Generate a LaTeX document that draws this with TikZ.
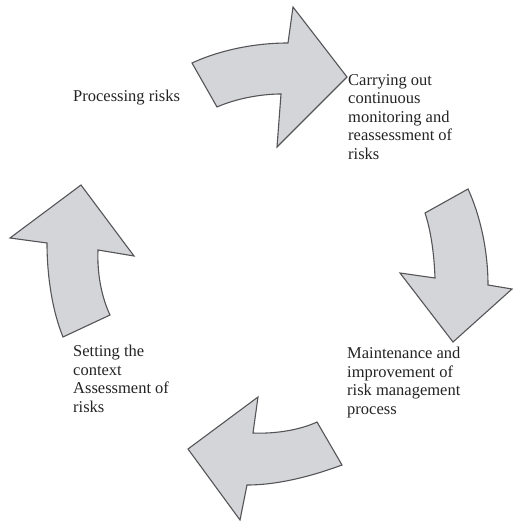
\documentclass[tikz,border=0pt]{standalone}
\usepackage{fontspec}
\setmainfont{Liberation Serif}
\definecolor{arrowfill}{RGB}{212,213,217}
\definecolor{arrowline}{RGB}{85,85,88}
\definecolor{labeltext}{RGB}{35,35,35}
\tikzset{
	blockarrow/.style={fill=arrowfill, draw=arrowline, line width=1.1pt, line join=miter},
	steplabel/.style={anchor=north west, inner sep=0pt, align=left, text=labeltext,
		font=\fontsize{16.5}{18.5}\selectfont}
}
\begin{document}
\begin{tikzpicture}[x=1pt,y=-1pt]
				\useasboundingbox (0,0) rectangle (513,521);

				\coordinate (TopTailA) at (192,63);
				\coordinate (TopTailB) at (217,107);
				\coordinate (TopNeckA) at (288,43);
				\coordinate (TopNeckB) at (281,94);
				\coordinate (TopBarbA) at (293,7);
				\coordinate (TopBarbB) at (277,147);
				\coordinate (TopTip) at (347,77);

				\coordinate (RgtTailA) at (468,189);
				\coordinate (RgtTailB) at (425,213);
				\coordinate (RgtNeckA) at (488,285);
				\coordinate (RgtNeckB) at (435,278);
				\coordinate (RgtBarbA) at (512,289);
				\coordinate (RgtBarbB) at (400,273);
				\coordinate (RgtTip) at (453,342);

				\coordinate (BotTailA) at (342,465);
				\coordinate (BotTailB) at (317,422);
				\coordinate (BotNeckA) at (247,485);
				\coordinate (BotNeckB) at (253,433);
				\coordinate (BotBarbA) at (240,520);
				\coordinate (BotBarbB) at (258,397);
				\coordinate (BotTip) at (188,449);

				\coordinate (LftTailA) at (63,337);
				\coordinate (LftTailB) at (110,315);
				\coordinate (LftNeckA) at (47,243);
				\coordinate (LftNeckB) at (98,250);
				\coordinate (LftBarbA) at (10,238);
				\coordinate (LftBarbB) at (134,256);
				\coordinate (LftTip) at (81,185);

				\draw[blockarrow] (TopTailA) .. controls (220,50) and (255,43) .. (TopNeckA) -- (TopBarbA) -- (TopTip) -- (TopBarbB) -- (TopNeckB) .. controls (260,94) and (235,99) .. (TopTailB) -- cycle;
				\draw[blockarrow] (RgtTailA) .. controls (480,215) and (488,250) .. (RgtNeckA) -- (RgtBarbA) -- (RgtTip) -- (RgtBarbB) -- (RgtNeckB) .. controls (434,250) and (430,228) .. (RgtTailB) -- cycle;
				\draw[blockarrow] (BotTailA) .. controls (315,475) and (280,485) .. (BotNeckA) -- (BotBarbA) -- (BotTip) -- (BotBarbB) -- (BotNeckB) .. controls (275,434) and (300,430) .. (BotTailB) -- cycle;
				\draw[blockarrow] (LftTailA) .. controls (52,310) and (47,275) .. (LftNeckA) -- (LftBarbA) -- (LftTip) -- (LftBarbB) -- (LftNeckB) .. controls (97,275) and (102,298) .. (LftTailB) -- cycle;

				\node[steplabel] (processing) at (73,90) {Processing risks};
				\node[steplabel] (monitoring) at (348,74) {Carrying out\\continuous\\monitoring and\\reassessment of\\risks};
				\node[steplabel] (maintenance) at (347,347) {Maintenance and\\improvement of\\risk management\\process};
				\node[steplabel] (context) at (73,345) {Setting the\\context\\Assessment of\\risks};
			\end{tikzpicture}
\end{document}
